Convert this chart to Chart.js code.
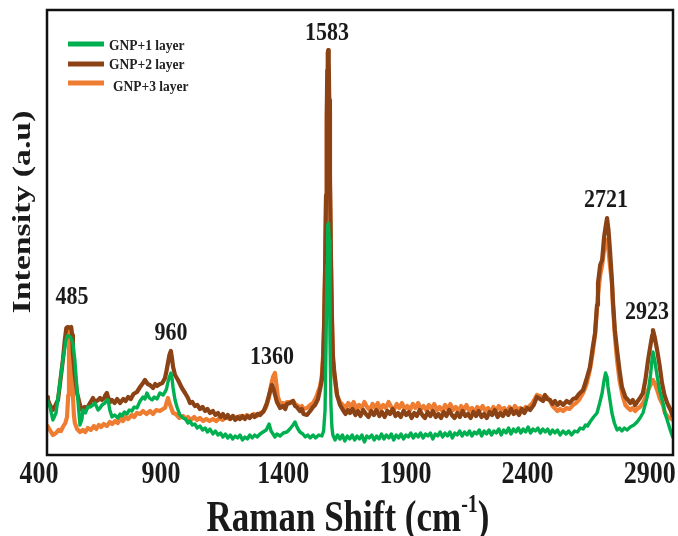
<!DOCTYPE html>
<html>
<head>
<meta charset="utf-8">
<title>Raman spectra</title>
<script src="https://cdn.jsdelivr.net/npm/chart.js"></script>
<style>
  html, body { margin: 0; padding: 0; background: #fff; }
  #wrap { width: 678px; height: 536px; position: relative; }
</style>
</head>
<body>
<div id="wrap"><canvas id="raman"></canvas></div>
<script>
// Raman shift (cm-1) / intensity pairs
const gnp1 = [
  [433,55],[445,48],[457,35],[470,42],[485,70],[498,95],[511,115],[515,119],[523,119],[531,117],
  [539,112],[547,95],[556,65],[568,30],[576,36],[580,45],[590,42],[600,48],[609,48],[621,50],
  [629,52],[642,45],[650,47],[658,50],[670,52],[678,55],[683,55],[690,45],[699,38],[710,40],
  [723,37],[732,41],[740,39],[750,43],[760,41],[770,45],[780,44],[790,48],[801,47],[814,54],
  [826,58],[834,56],[842,62],[852,57],[863,55],[872,58],[883,56],[895,62],[908,60],[916,63],
  [922,66],[928,73],[934,78],[940,82],[945,76],[949,67],[957,55],[965,48],[977,40],[990,37],
  [1000,36],[1010,32],[1018,34],[1028,30],[1038,31],[1048,27],[1059,29],[1070,25],[1080,27],[1090,23],
  [1100,26],[1112,21],[1122,24],[1133,20],[1143,22],[1153,18],[1163,21],[1173,17],[1183,20],[1193,16],
  [1203,19],[1213,17],[1223,20],[1233,15],[1243,18],[1253,16],[1263,20],[1273,17],[1283,20],[1293,18],
  [1305,21],[1317,23],[1330,25],[1342,31],[1350,24],[1358,21],[1366,18],[1374,21],[1387,19],[1400,22],
  [1415,23],[1427,26],[1440,30],[1448,33],[1458,27],[1468,23],[1480,21],[1490,18],[1500,20],[1510,17],
  [1522,20],[1532,17],[1545,20],[1558,19],[1565,24],[1571,45],[1575,110],[1579,190],[1582,230],[1585,232],
  [1588,215],[1591,120],[1595,50],[1599,28],[1603,20],[1612,15],[1622,20],[1632,16],[1642,20],[1652,14],
  [1662,19],[1672,16],[1682,20],[1692,15],[1702,19],[1712,16],[1722,20],[1732,13],[1742,19],[1752,17],
  [1762,20],[1772,15],[1782,19],[1792,16],[1802,21],[1812,16],[1822,20],[1832,17],[1842,21],[1852,15],
  [1862,20],[1872,17],[1882,21],[1892,16],[1902,20],[1912,18],[1922,22],[1932,17],[1942,21],[1952,18],
  [1962,22],[1972,17],[1982,21],[1992,19],[2002,22],[2012,16],[2022,21],[2032,19],[2042,23],[2052,18],
  [2062,22],[2072,19],[2082,23],[2092,17],[2102,22],[2112,20],[2122,24],[2132,19],[2142,23],[2152,20],
  [2162,24],[2172,19],[2182,23],[2192,21],[2202,25],[2212,19],[2222,24],[2232,21],[2242,25],[2252,20],
  [2262,24],[2272,22],[2282,26],[2292,20],[2302,25],[2312,22],[2322,27],[2332,21],[2342,26],[2352,23],
  [2362,27],[2372,22],[2382,26],[2392,23],[2402,28],[2412,22],[2422,26],[2432,24],[2442,27],[2452,22],
  [2462,26],[2472,23],[2482,26],[2492,21],[2502,25],[2512,22],[2522,25],[2533,20],[2545,24],[2557,21],
  [2568,24],[2580,20],[2592,24],[2604,23],[2615,27],[2627,26],[2637,30],[2645,29],[2655,33],[2670,38],
  [2684,42],[2695,52],[2705,62],[2713,75],[2719,82],[2725,78],[2729,68],[2737,55],[2745,42],[2755,32],
  [2766,25],[2776,27],[2786,24],[2796,27],[2807,25],[2820,28],[2835,30],[2848,33],[2860,37],[2872,42],
  [2883,52],[2893,62],[2903,80],[2909,95],[2913,103],[2920,95],[2930,79],[2940,65],[2954,52],[2962,42],
  [2975,32],[2985,24],[2995,17]
];
const gnp2 = [
  [433,58],[437,55],[445,50],[457,45],[468,50],[478,55],[488,75],[498,95],[506,115],[512,127],
  [518,128],[525,127],[532,128],[536,120],[539,102],[547,80],[556,62],[568,50],[576,45],[587,48],
  [597,47],[609,52],[621,57],[630,53],[642,55],[650,57],[658,55],[667,57],[672,60],[678,62],
  [684,57],[692,53],[699,55],[710,52],[720,56],[732,52],[745,56],[755,54],[765,58],[776,56],
  [787,61],[801,63],[814,68],[826,72],[834,75],[845,71],[854,70],[867,67],[876,71],[883,69],
  [895,71],[905,72],[916,77],[922,84],[928,92],[934,100],[940,104],[945,96],[949,88],[957,80],
  [969,75],[985,67],[998,62],[1010,57],[1018,52],[1028,53],[1038,49],[1048,50],[1059,46],[1070,48],
  [1080,44],[1090,46],[1100,42],[1112,44],[1122,40],[1133,42],[1143,38],[1153,41],[1163,37],[1173,40],
  [1183,36],[1193,39],[1203,35],[1213,38],[1223,36],[1233,39],[1243,36],[1253,39],[1263,37],[1273,40],
  [1283,38],[1295,41],[1305,40],[1320,44],[1333,52],[1345,63],[1354,70],[1362,64],[1374,53],[1387,47],
  [1399,49],[1408,46],[1415,51],[1428,52],[1440,54],[1448,49],[1455,48],[1468,44],[1476,46],[1483,41],
  [1497,40],[1510,44],[1522,48],[1530,50],[1542,56],[1550,65],[1558,75],[1563,95],[1567,130],[1571,185],
  [1575,260],[1578,340],[1580,385],[1582,402],[1584,405],[1586,395],[1588,355],[1591,280],[1595,200],[1599,140],
  [1603,100],[1608,85],[1620,60],[1632,50],[1644,45],[1655,41],[1665,45],[1673,42],[1684,46],[1695,40],
  [1706,44],[1716,39],[1727,45],[1738,41],[1749,38],[1760,44],[1771,40],[1782,45],[1793,39],[1804,43],
  [1815,38],[1826,44],[1837,41],[1848,46],[1859,39],[1870,42],[1881,38],[1892,44],[1903,40],[1914,43],
  [1925,37],[1936,42],[1947,39],[1958,45],[1969,40],[1980,37],[1991,43],[2002,39],[2013,44],[2024,38],
  [2035,41],[2046,37],[2057,43],[2068,39],[2079,45],[2090,40],[2101,37],[2112,42],[2123,38],[2134,44],
  [2145,39],[2156,41],[2167,37],[2178,43],[2189,39],[2200,44],[2211,38],[2222,41],[2233,37],[2244,43],
  [2255,40],[2266,45],[2277,38],[2288,42],[2299,39],[2310,44],[2321,40],[2332,46],[2343,41],[2354,44],
  [2365,40],[2376,46],[2387,42],[2398,47],[2410,45],[2425,50],[2438,58],[2451,56],[2463,54],[2471,60],
  [2479,56],[2492,55],[2502,51],[2512,54],[2522,50],[2533,53],[2545,50],[2560,54],[2572,52],[2586,56],
  [2598,57],[2610,61],[2627,65],[2640,75],[2655,88],[2665,105],[2676,122],[2684,150],[2688,172],[2697,190],
  [2705,195],[2713,218],[2719,228],[2725,237],[2731,225],[2737,205],[2745,175],[2749,155],[2757,125],[2766,105],
  [2776,85],[2786,68],[2800,58],[2811,55],[2820,52],[2830,55],[2840,50],[2848,53],[2860,57],[2872,62],
  [2882,75],[2893,95],[2903,110],[2910,120],[2913,125],[2920,118],[2930,105],[2940,90],[2950,72],[2960,60],
  [2971,52],[2985,45],[2995,38]
];
const gnp3 = [
  [433,30],[440,27],[445,25],[457,20],[470,22],[480,25],[490,24],[498,28],[508,32],[515,38],
  [520,60],[523,105],[527,125],[531,120],[535,90],[539,60],[543,40],[547,32],[556,26],[568,23],
  [580,25],[590,23],[600,27],[612,25],[625,29],[635,26],[645,30],[655,28],[665,31],[678,29],
  [690,33],[700,31],[712,34],[723,32],[733,36],[744,34],[755,38],[765,36],[780,40],[790,38],
  [801,42],[814,41],[826,44],[840,41],[855,44],[867,41],[880,45],[895,44],[908,46],[916,47],
  [922,52],[928,57],[934,52],[940,48],[949,42],[960,41],[975,37],[990,39],[1000,36],[1010,38],
  [1022,35],[1035,38],[1047,35],[1059,37],[1072,34],[1085,36],[1098,34],[1112,36],[1125,34],[1140,37],
  [1152,35],[1165,38],[1182,36],[1196,39],[1210,36],[1223,39],[1237,37],[1251,40],[1265,38],[1280,41],
  [1292,39],[1305,42],[1317,43],[1330,48],[1342,58],[1350,70],[1358,78],[1366,82],[1372,70],[1378,58],
  [1387,52],[1399,52],[1407,50],[1415,53],[1428,53],[1440,54],[1448,51],[1455,50],[1468,48],[1476,49],
  [1483,46],[1497,47],[1510,50],[1522,52],[1535,58],[1545,65],[1550,68],[1558,80],[1563,100],[1567,130],
  [1571,180],[1575,255],[1578,330],[1580,370],[1583,390],[1586,380],[1588,345],[1591,270],[1595,195],[1599,135],
  [1603,95],[1608,80],[1620,60],[1632,53],[1644,50],[1655,47],[1666,52],[1677,48],[1688,53],[1699,46],
  [1710,50],[1721,47],[1732,53],[1743,48],[1754,45],[1765,51],[1776,47],[1787,52],[1798,46],[1809,50],
  [1820,47],[1831,53],[1842,48],[1853,45],[1864,51],[1875,47],[1886,52],[1897,46],[1908,49],[1919,45],
  [1930,51],[1941,47],[1952,52],[1963,46],[1974,49],[1985,45],[1996,50],[2007,46],[2018,51],[2029,45],
  [2040,48],[2051,44],[2062,50],[2073,46],[2084,51],[2095,45],[2106,48],[2117,44],[2128,49],[2139,45],
  [2150,50],[2161,44],[2172,47],[2183,43],[2194,48],[2205,45],[2216,49],[2227,44],[2238,47],[2249,43],
  [2260,48],[2271,44],[2282,49],[2293,45],[2304,47],[2315,43],[2326,48],[2337,44],[2348,49],[2359,45],
  [2370,47],[2381,44],[2392,48],[2400,47],[2420,52],[2438,60],[2451,59],[2463,57],[2479,58],[2492,54],
  [2502,49],[2510,47],[2522,44],[2533,46],[2545,44],[2560,47],[2572,46],[2586,50],[2598,52],[2610,55],
  [2627,62],[2640,70],[2655,85],[2665,100],[2676,120],[2688,160],[2697,180],[2705,190],[2713,205],[2719,212],
  [2725,215],[2731,205],[2737,190],[2745,172],[2749,150],[2757,120],[2766,95],[2776,75],[2790,58],[2800,50],
  [2811,47],[2820,45],[2830,47],[2840,44],[2848,46],[2860,48],[2872,52],[2883,58],[2893,65],[2903,70],
  [2913,75],[2920,72],[2930,65],[2940,57],[2954,50],[2962,42],[2975,38],[2995,35]
];

const seriesNames = ['GNP+1 layer', 'GNP+2 layer', 'GNP+3 layer'];
const seriesColors = ['#00b050', '#8b4316', '#ee7d32'];
const xTicks = [400, 900, 1400, 1900, 2400, 2900];

// peak labels: text, anchor shift, anchor intensity
const peakText = ['485', '960', '1360', '1583', '2721', '2923'];
const peakX = [535, 940, 1354, 1579, 2721, 2889];
const peakY = [158, 122, 98, 422, 255, 143];

const serif = "'Liberation Serif', 'Times New Roman', serif";

function tallText(ctx, text, x, y, size, stretch, align) {
  ctx.save();
  ctx.translate(x, y);
  ctx.scale(1, stretch);
  ctx.font = 'bold ' + size + 'px ' + serif;
  ctx.textAlign = align || 'center';
  ctx.textBaseline = 'middle';
  ctx.fillText(text, 0, 0);
  ctx.restore();
}

const decorations = {
  id: 'decorations',
  afterDraw(chart) {
    const ctx = chart.ctx;
    const area = chart.chartArea;
    const xs = chart.scales.x;
    const ys = chart.scales.y;

    // frame
    ctx.save();
    ctx.strokeStyle = '#111';
    ctx.lineWidth = 2.5;
    ctx.strokeRect(area.left, area.top, area.right - area.left, area.bottom - area.top);
    ctx.restore();

    ctx.fillStyle = '#1a1a1a';

    // tick labels
    xTicks.forEach(v => {
      tallText(ctx, String(v), xs.getPixelForValue(v), 475, 26, 1.25);
    });

    // x title with superscript
    const main = 'Raman Shift (cm';
    ctx.font = 'bold 35px ' + serif;
    const w1 = ctx.measureText(main).width;
    const w3 = ctx.measureText(')').width;
    ctx.font = 'bold 20px ' + serif;
    const w2 = ctx.measureText('-1').width;
    const x0 = 348 - (w1 + w2 + w3) / 2;
    tallText(ctx, main, x0, 519, 35, 1.28, 'left');
    tallText(ctx, '-1', x0 + w1, 505, 20, 1.28, 'left');
    tallText(ctx, ')', x0 + w1 + w2, 519, 35, 1.28, 'left');

    // y title
    ctx.save();
    ctx.translate(23, 212);
    ctx.scale(1, 1.3);
    ctx.rotate(-Math.PI / 2);
    ctx.font = 'bold 26px ' + serif;
    ctx.textAlign = 'center';
    ctx.textBaseline = 'middle';
    ctx.fillText('Intensity (a.u)', 0, 0);
    ctx.restore();

    // peak labels
    peakText.forEach((t, i) => {
      tallText(ctx, t, xs.getPixelForValue(peakX[i]), ys.getPixelForValue(peakY[i]), 22, 1.15);
    });

    // legend
    const legY = [44, 64, 83];
    const legTextX = [109, 109, 113];
    const legTextY = [46, 65, 87];
    seriesNames.forEach((name, i) => {
      ctx.save();
      ctx.strokeStyle = seriesColors[i];
      ctx.lineWidth = 5;
      ctx.beginPath();
      ctx.moveTo(68, legY[i]);
      ctx.lineTo(104, legY[i]);
      ctx.stroke();
      ctx.restore();
      ctx.fillStyle = '#222';
      tallText(ctx, name, legTextX[i], legTextY[i], 13.5, 1.1, 'left');
    });
  }
};

const toPoints = arr => arr.map(p => ({ x: p[0], y: p[1] }));

new Chart(document.getElementById('raman').getContext('2d'), {
  type: 'line',
  data: {
    datasets: [gnp1, gnp2, gnp3].map((d, i) => ({
      label: seriesNames[i],
      data: toPoints(d),
      borderColor: seriesColors[i],
      borderWidth: i === 0 ? 3.4 : 4.2,
      pointRadius: 0,
      tension: 0,
      borderJoinStyle: 'round'
    }))
  },
  options: {
    responsive: true,
    maintainAspectRatio: false,
    animation: false,
    layout: { padding: { left: 47, right: 5, top: 10, bottom: 81 } },
    plugins: { legend: { display: false }, tooltip: { enabled: false } },
    scales: {
      x: { type: 'linear', min: 433, max: 2995, display: false },
      y: { type: 'linear', min: 0, max: 445, display: false }
    }
  },
  plugins: [decorations]
});
</script>
</body>
</html>
